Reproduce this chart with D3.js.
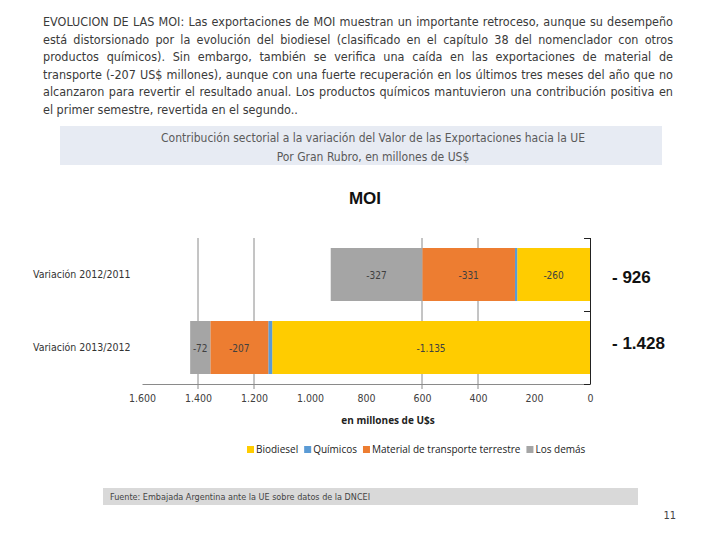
<!DOCTYPE html>
<html><head><meta charset="utf-8">
<script src="https://cdn.jsdelivr.net/npm/d3@7"></script>
<style>
body{margin:0;background:#fff;width:720px;height:540px;overflow:hidden;position:relative;}
#para{position:absolute;left:43px;top:13px;width:630px;font-family:"DejaVu Sans Condensed","Liberation Sans",sans-serif;font-size:12.5px;color:#3a3a3a;line-height:17.6px;}
#para div{text-align:justify;text-align-last:justify;white-space:nowrap;}
#para div.last{text-align-last:left;}
svg{position:absolute;left:0;top:0;}
</style></head>
<body>
<svg id="chart" width="720" height="540"></svg>
<div id="para"></div>
<script>
const paragraphLines = [
  "EVOLUCION DE LAS MOI: Las exportaciones de MOI muestran un importante retroceso, aunque su desempeño",
  "está distorsionado por la evolución del biodiesel (clasificado en el capítulo 38 del nomenclador con otros",
  "productos químicos). Sin embargo, también se verifica una caída en las exportaciones de material de",
  "transporte (-207 US$ millones), aunque con una fuerte recuperación en los últimos tres meses del año que no",
  "alcanzaron para revertir el resultado anual. Los productos químicos mantuvieron una contribución positiva en",
  "el primer semestre, revertida en el segundo.."
];
const boxTitle = ["Contribución sectorial a la variación del Valor de las Exportaciones hacia la UE","Por Gran Rubro, en millones de US$"];
const chartTitle = "MOI";
const categories = ["Variación 2012/2011","Variación 2013/2012"];
const seriesNames = ["Biodiesel","Químicos","Material de transporte terrestre","Los demás"];
const biodiesel = [-260,-1135];
const quimicos = [-8,-14];
const transporte = [-331,-207];
const losDemas = [-327,-72];
const seriesColors = ["#FFCC00","#5B9BD5","#ED7D31","#A5A5A5"];
const xTicks = [1600,1400,1200,1000,800,600,400,200,0];
const gridValues = [1400,1200,600,400];
const axisTitle = "en millones de U$s";
const source = "Fuente: Embajada Argentina ante la UE sobre datos de la DNCEI";
const pageNumber = "11";

const condensed = "'DejaVu Sans Condensed','Liberation Sans',sans-serif";

const para = d3.select("#para");
paragraphLines.forEach((l,i)=>{
  para.append("div").attr("class", i===paragraphLines.length-1?"last":null).text(l);
});

const svg = d3.select("#chart");
const fmt = v => (v<0?"-":"") + d3.format(",")(Math.abs(v)).replace(/,/g,".");

svg.append("rect").attr("x",60).attr("y",126).attr("width",602).attr("height",39).attr("fill","#E7EBF3");
boxTitle.forEach((t,i)=>{
  svg.append("text").attr("x",373).attr("y",142+i*19).attr("text-anchor","middle")
    .attr("font-family",condensed).attr("font-size",12)
    .attr("fill","#5a5a5a").text(t);
});

svg.append("text").attr("x",365).attr("y",204).attr("text-anchor","middle")
  .attr("font-family","'Liberation Sans',Arial,sans-serif").attr("font-weight","bold").attr("font-size",17)
  .attr("fill","#111").text(chartTitle);

const x = d3.scaleLinear().domain([1600,0]).range([142,590]);
const y = d3.scaleBand().domain(categories).range([238,384]).paddingInner(0.274).paddingOuter(0.137);

svg.append("g").selectAll("line").data(gridValues).join("line")
  .attr("x1",d=>x(d)).attr("x2",d=>x(d)).attr("y1",238).attr("y2",389)
  .attr("stroke","#8a8a8a").attr("stroke-width",1);

const rows = categories.map((c,i)=>({cat:c, Biodiesel:-biodiesel[i], "Químicos":-quimicos[i], "Material de transporte terrestre":-transporte[i], "Los demás":-losDemas[i]}));
const stack = d3.stack().keys(seriesNames)(rows);

stack.forEach((s,si)=>{
  const g = svg.append("g");
  g.selectAll("rect").data(s).join("rect")
    .attr("x",d=>x(d[1])).attr("width",d=>x(d[0])-x(d[1]))
    .attr("y",d=>y(d.data.cat)).attr("height",y.bandwidth())
    .attr("fill",seriesColors[si]);
  if (seriesNames[si] !== "Químicos") {
    g.selectAll("text").data(s).join("text")
      .attr("x",d=>(x(d[0])+x(d[1]))/2).attr("y",d=>y(d.data.cat)+y.bandwidth()/2+4)
      .attr("text-anchor","middle").attr("font-family",condensed)
      .attr("font-size",10).attr("fill","#404040")
      .text(d=>fmt(-(d[1]-d[0])));
  }
});

const xAxis = d3.axisBottom(x).tickValues(xTicks).tickFormat(d=>fmt(d)).tickSize(0).tickPadding(11);
const ax = svg.append("g").attr("transform","translate(0,384)").call(xAxis);
ax.select(".domain").attr("stroke","#8a8a8a");
ax.selectAll("text").attr("font-family",condensed).attr("font-size",10.5).attr("fill","#404040");

svg.append("line").attr("x1",590.5).attr("x2",590.5).attr("y1",238).attr("y2",384).attr("stroke","#222");
const bounds = [238, 238+y.step(), 384];
svg.append("g").selectAll("line").data(bounds).join("line")
  .attr("x1",584).attr("x2",590.5).attr("y1",d=>d+0.5).attr("y2",d=>d+0.5).attr("stroke","#222");

svg.append("g").selectAll("text").data(categories).join("text")
  .attr("x",33).attr("y",d=>y(d)+y.bandwidth()/2+3)
  .attr("font-family",condensed).attr("font-size",10.5)
  .attr("fill","#333").text(d=>d);

svg.append("g").selectAll("text").data(categories).join("text")
  .attr("x",612).attr("y",(d,i)=> i===0 ? 283 : 349)
  .attr("font-family","'Liberation Sans',Arial,sans-serif").attr("font-weight","bold").attr("font-size",17)
  .attr("fill","#111")
  .text((d,i)=>"- " + fmt(-(biodiesel[i]+quimicos[i]+transporte[i]+losDemas[i])));

svg.append("text").attr("x",388).attr("y",424).attr("text-anchor","middle")
  .attr("font-family","'Open Sans','DejaVu Sans',sans-serif").attr("font-weight","bold").attr("font-size",10)
  .attr("fill","#222").text(axisTitle);

const leg = svg.append("g").attr("transform","translate(247,452)");
let lx = 0;
seriesNames.forEach((n,i)=>{
  leg.append("rect").attr("x",lx).attr("y",-6).attr("width",7).attr("height",7).attr("fill",seriesColors[i]);
  const t = leg.append("text").attr("x",lx+9).attr("y",1).attr("font-family","'Open Sans','DejaVu Sans',sans-serif")
    .attr("font-size",10).attr("fill","#222").text(n);
  lx += 9 + t.node().getComputedTextLength() + 6;
});

svg.append("rect").attr("x",103).attr("y",488).attr("width",535).attr("height",17).attr("fill","#D9D9D9");
svg.append("text").attr("x",110).attr("y",500).attr("font-family",condensed)
  .attr("font-size",9).attr("fill","#444").text(source);

svg.append("text").attr("x",676).attr("y",519).attr("text-anchor","end").attr("font-family",condensed)
  .attr("font-size",11).attr("fill","#444").text(pageNumber);
</script>
</body></html>
